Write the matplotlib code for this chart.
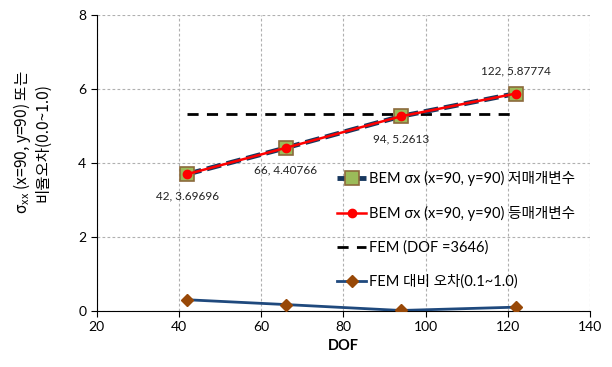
import matplotlib
matplotlib.use("Agg")
import matplotlib.pyplot as plt

plt.rcParams["font.family"] = ["Lato", "Noto Sans CJK KR", "DejaVu Sans"]
plt.rcParams["axes.unicode_minus"] = False
plt.rcParams["mathtext.fontset"] = "custom"
plt.rcParams["mathtext.rm"] = "Noto Sans CJK KR"
plt.rcParams["mathtext.it"] = "Noto Sans CJK KR"
plt.rcParams["mathtext.bf"] = "Noto Sans CJK KR:bold"

dof = [42, 66, 94, 122]
bem_low = [3.69696, 4.40766, 5.2613, 5.87774]
bem_eq = [3.69696, 4.40766, 5.2613, 5.87774]
fem_x = [42, 122]
fem_val = [5.33, 5.33]
err = [0.30, 0.17, 0.01, 0.10]

labels = ["BEM σx (x=90, y=90) 저매개변수",
          "BEM σx (x=90, y=90) 등매개변수",
          "FEM (DOF =3646)",
          "FEM 대비 오차(0.1~1.0)"]

fig = plt.figure(figsize=(6.12, 3.67), dpi=100)
ax = fig.add_axes([0.158, 0.153, 0.806, 0.806])

ax.plot(dof, bem_low, color="#17375E", lw=3.5, ls=(0, (3, 1.2)), marker="s",
        ms=10, mfc="#9BBB59", mec="#8C6A3C", mew=1.2, label=labels[0], zorder=3)
ax.plot(dof, bem_eq, color="#FF0000", lw=1.8, marker="o", ms=6,
        mfc="#FF0000", mec="#FF0000", label=labels[1], zorder=4)
ax.plot(fem_x, fem_val, color="black", lw=2, ls=(0, (4, 3)), label=labels[2], zorder=2)
ax.plot(dof, err, color="#1F497D", lw=2, marker="D", ms=6, mfc="#984807",
        mec="#984807", label=labels[3], zorder=3)

# data labels
for i, (x, y) in enumerate(zip(dof, bem_low)):
    txt = f"{x}, {y:g}"
    dy = 12 if i == len(dof) - 1 else -12
    va = "bottom" if dy > 0 else "top"
    ax.annotate(txt, (x, y), xytext=(0, dy), textcoords="offset points",
                ha="center", va=va, fontsize=8.5, color="#222222")

ax.set_xlim(20, 140)
ax.set_ylim(0, 8)
ax.set_xticks(range(20, 141, 20))
ax.set_yticks(range(0, 9, 2))
ax.grid(True, color="#B0B0B0", ls=(0, (2.5, 2)), lw=0.8)
ax.set_axisbelow(True)
for s in ["top", "right"]:
    ax.spines[s].set_visible(False)
ax.spines["left"].set_color("black")
ax.spines["bottom"].set_color("black")
ax.tick_params(labelsize=10, length=4, direction="out")

ax.set_xlabel("DOF", fontsize=10.5, fontweight="bold")
ax.set_ylabel(r"σ$_\mathrm{xx}$ (x=90, y=90) 또는" + "\n비율오차(0.0~1.0)",
              fontsize=11.2, linespacing=1.05, family="Noto Sans CJK KR")
ax.yaxis.set_label_coords(-0.093, 0.57)

ax.legend(loc="lower left", bbox_to_anchor=(0.476, 0.054), frameon=False,
          fontsize=10.5, labelspacing=1.36, handlelength=2.0, handletextpad=0.2,
          borderaxespad=0)

fig.savefig("out.png", dpi=100)
